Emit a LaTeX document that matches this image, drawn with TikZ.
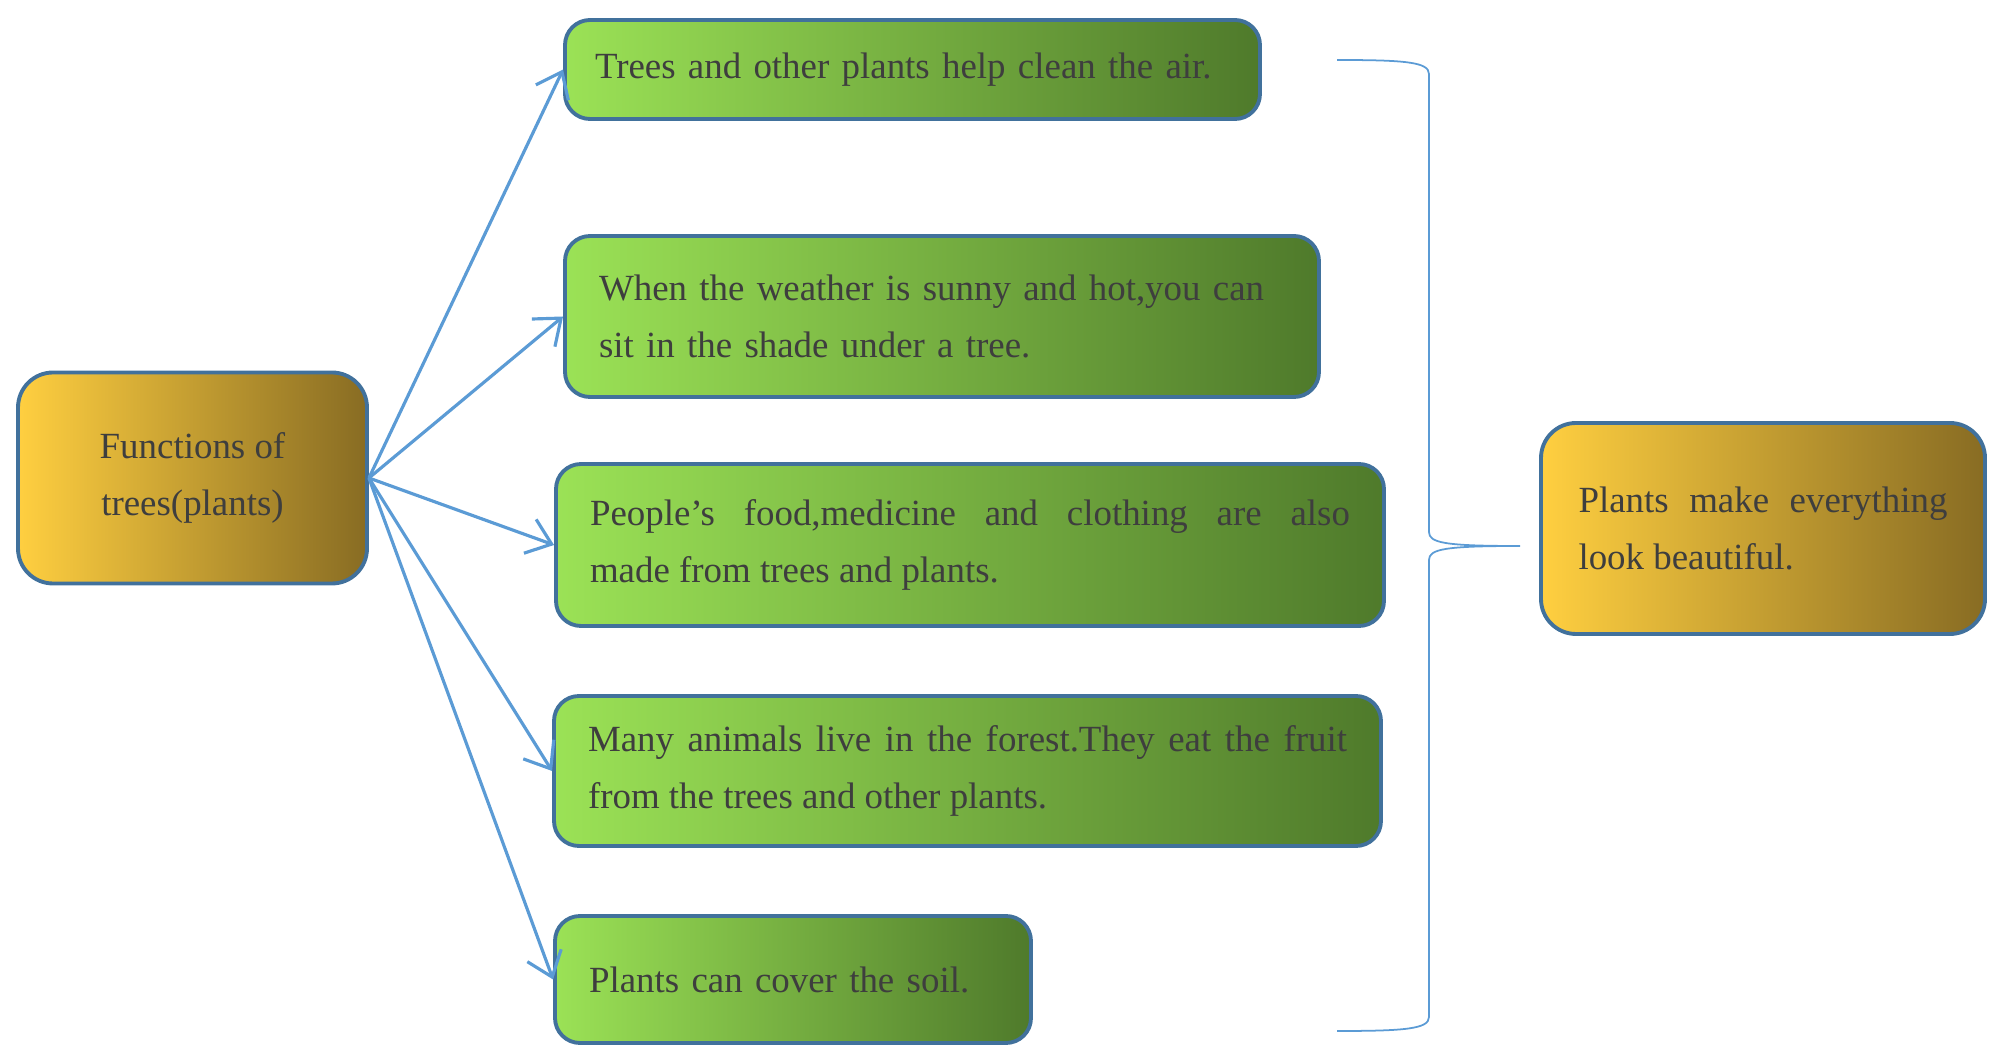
\documentclass[tikz,border=0pt]{standalone}
\usepackage{fontspec}
\setmainfont{Liberation Serif}
\usetikzlibrary{arrows.meta}
\definecolor{leafhi}{RGB}{155,226,86}
\definecolor{leafmid}{RGB}{130,192,72}
\definecolor{leaflo}{RGB}{79,122,43}
\definecolor{goldhi}{RGB}{255,207,64}
\definecolor{goldmid}{RGB}{216,172,56}
\definecolor{goldlo}{RGB}{136,108,35}
\definecolor{edgeblue}{RGB}{65,113,156}
\definecolor{linkblue}{RGB}{91,155,213}
\definecolor{inkgray}{RGB}{62,62,62}

\begin{document}
\begin{tikzpicture}[x=0.1mm, y=-0.1mm,
    box/.style={draw=edgeblue, line width=1.1pt, rounded corners=2.5mm,
      left color=leafhi, middle color=leafmid, right color=leaflo, text=inkgray,
      inner xsep=3.4mm, inner ysep=0pt, align=justify,
      font=\fontsize{10.5}{16}\selectfont},
    goldbox/.style={box, rounded corners=3.5mm,
      left color=goldhi, middle color=goldmid, right color=goldlo},
    arr/.style={draw=linkblue, line width=0.9pt,
      -{Straight Barb[length=2.3mm,width=3.6mm]}}]
    \useasboundingbox (0,0) rectangle (2000,1062);
    % main topic and the conclusion
    \node[goldbox, align=center, minimum width=34.9mm, minimum height=21.1mm]
      (fun) at (192.5,478) {Functions of\\trees(plants)};
    \node[goldbox, text width=36.9mm, inner xsep=3.75mm, minimum height=21.1mm]
      (res) at (1763,528.5) {Plants make everything\break look beautiful.};
    % the five functions
    \node[box, text width=63.5mm, inner xsep=3mm, align=left, minimum height=9.9mm]
      (b1) at (912.5,69.5) {Trees and other plants help clean the air.};
    \node[box, text width=68.6mm, align=left, minimum height=16.1mm]
      (b2) at (942,316.5) {When the weather is sunny and hot,you can\\sit in the shade under a tree.};
    \node[box, text width=76mm, minimum height=16.2mm]
      (b3) at (970,545) {People’s food,medicine and clothing are also\break made from trees and plants.};
    \node[box, text width=75.9mm, minimum height=15mm]
      (b4) at (967.5,771) {Many animals live in the forest.They eat the fruit\break from the trees and other plants.};
    \node[box, text width=40.8mm, align=left, minimum height=12.7mm]
      (b5) at (793,979.5) {Plants can cover the soil.};
    \foreach \b in {b1,b2,b3,b4,b5}
      \draw[arr] (fun.east) -- (\b.west);
    % bracket gathering the five boxes
    \draw[linkblue, line width=0.5pt] (1337,60) .. controls (1405,60) and (1429,62) .. (1429,74)
      -- (1429,532) .. controls (1429,543) and (1445,546) .. (1520,546)
      .. controls (1445,546) and (1429,549) .. (1429,560)
      -- (1429,1017) .. controls (1429,1029) and (1405,1031) .. (1337,1031);
\end{tikzpicture}
\end{document}
